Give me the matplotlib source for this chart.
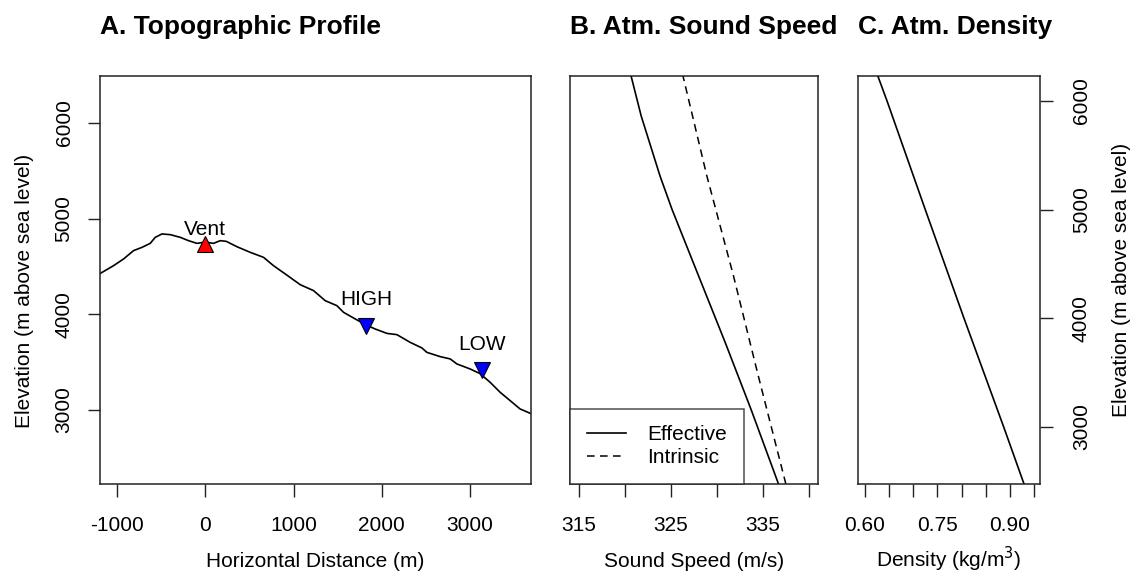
import numpy as np
import matplotlib
matplotlib.use("Agg")
import matplotlib.pyplot as plt

plt.rcParams['font.family'] = ['Liberation Sans', 'DejaVu Sans']
plt.rcParams['axes.unicode_minus'] = False

# --- A. topographic profile (horizontal distance m, elevation m)
topo_x = [-1189, -1038, -925, -812, -717, -623, -566, -491, -396, -283, -189, -94,
          0, 94, 170, 238, 359, 510, 660, 773, 925, 1076, 1227, 1359, 1491, 1567,
          1699, 1820, 1925, 2058, 2171, 2322, 2454, 2510, 2662, 2775, 2850, 3001,
          3114, 3228, 3341, 3454, 3567, 3681]
topo_z = [4428, 4509, 4579, 4666, 4700, 4742, 4805, 4840, 4833, 4805, 4770, 4742,
          4755, 4742, 4770, 4763, 4707, 4648, 4596, 4509, 4410, 4310, 4248, 4143,
          4091, 4021, 3952, 3890, 3847, 3801, 3788, 3707, 3649, 3603, 3558, 3534,
          3482, 3429, 3380, 3289, 3185, 3098, 3011, 2966]

stations = ["Vent", "HIGH", "LOW"]
station_x = [0, 1820, 3133]
station_z = [4735, 3879, 3417]

# --- B. sound speed profiles
eff_z = [2475, 3164, 3777, 4390, 5004, 5310, 5862, 6230]
eff_c = [336.7, 333.7, 330.9, 328.0, 325.1, 323.8, 321.75, 320.65]
intr_z = [2475, 3470, 4390, 5310, 6230]
intr_c = [337.5, 334.5, 331.8, 328.9, 326.3]

# --- C. density profile
dens_z = [2475, 3000, 4000, 5000, 6000, 6230]
dens_rho = [0.929, 0.887, 0.805, 0.725, 0.646, 0.627]

W, H = 1139, 578
fig = plt.figure(figsize=(W / 100, H / 100), dpi=100)

def px_axes(x0, x1, y0, y1):
    return fig.add_axes([x0 / W, 1 - y1 / H, (x1 - x0) / W, (y1 - y0) / H])

axA = px_axes(100, 531, 76, 484)
axB = px_axes(570, 818, 76, 484)
axC = px_axes(858, 1040, 76, 484)

FS = 15
TFS = 19
for ax in (axA, axB, axC):
    for s in ax.spines.values():
        s.set_linewidth(1.1)
        s.set_color('#222222')
    ax.tick_params(direction='out', length=9, width=1.0, labelsize=FS,
                   color='#222222')
    ax.tick_params(axis='x', pad=14)

# panel A
axA.plot(topo_x, topo_z, color='black', lw=1.2)
axA.plot(station_x[0], station_z[0], marker='^', ms=11, mfc='red', mec='black',
         mew=0.8, ls='none')
axA.plot(station_x[1:], station_z[1:], marker='v', ms=11, mfc='blue', mec='black',
         mew=0.8, ls='none')
offsets = [15, 26, 26]
for name, x, z, off in zip(stations, station_x, station_z, offsets):
    axA.annotate(name, (x, z), xytext=(0, off * 0.72), textcoords='offset points',
                 ha='center', va='center', fontsize=FS)
axA.set_xlim(-1192, 3690)
axA.set_ylim(2227, 6491)
axA.set_xticks([-1000, 0, 1000, 2000, 3000])
axA.set_yticks([3000, 4000, 5000, 6000])
axA.tick_params(axis='y', pad=10)
for t in axA.get_yticklabels():
    t.set_rotation(90)
    t.set_va('center')
axA.set_title('A. Topographic Profile', loc='left', fontsize=TFS,
              fontweight='bold', pad=30)

# panel B
axB.plot(eff_c, eff_z, color='black', lw=1.2, label='Effective')
axB.plot(intr_c, intr_z, color='black', lw=1.1, dashes=(5, 3.5), label='Intrinsic')
axB.set_xlim(314.0, 341.0)
axB.set_ylim(2475, 6230)
axB.set_xticks([315, 320, 325, 330, 335, 340])
axB.set_xticklabels(['315', '', '325', '', '335', ''])
axB.set_yticks([])
leg = axB.legend(loc='lower left', borderaxespad=0, fancybox=False, fontsize=FS,
                 handlelength=1.9, handletextpad=1.0, borderpad=0.8,
                 labelspacing=0.2)
leg.get_frame().set_edgecolor('#222222')
leg.get_frame().set_linewidth(1.1)
axB.set_title('B. Atm. Sound Speed', loc='left', fontsize=TFS,
              fontweight='bold', pad=30)

# panel C
axC.plot(dens_rho, dens_z, color='black', lw=1.2)
axC.set_xlim(0.586, 0.962)
axC.set_ylim(2475, 6230)
axC.set_xticks(np.round(np.arange(0.60, 0.951, 0.05), 2))
axC.set_xticklabels(['0.60', '', '', '0.75', '', '', '0.90', ''])
axC.set_yticks([3000, 4000, 5000, 6000])
axC.yaxis.tick_right()
axC.tick_params(axis='y', pad=14)
for t in axC.get_yticklabels():
    t.set_rotation(90)
    t.set_va('center')
axC.set_title('C. Atm. Density', loc='left', fontsize=TFS,
              fontweight='bold', pad=30)

# axis labels
base = 1 - 567 / H
fig.text((100 + 531) / 2 / W, base, 'Horizontal Distance (m)', ha='center',
         va='baseline', fontsize=FS)
fig.text((570 + 818) / 2 / W, base, 'Sound Speed (m/s)', ha='center',
         va='baseline', fontsize=FS)
fig.text((858 + 1040) / 2 / W, base, 'Density (kg/m$^3$)', ha='center',
         va='baseline', fontsize=FS)
fig.text(30 / W, 1 - 291 / H, 'Elevation (m above sea level)', rotation=90,
         rotation_mode='anchor', ha='center', va='baseline', fontsize=FS)
fig.text(1127 / W, 1 - 280 / H, 'Elevation (m above sea level)', rotation=90,
         rotation_mode='anchor', ha='center', va='baseline', fontsize=FS)

fig.savefig('out.png', dpi=100)
